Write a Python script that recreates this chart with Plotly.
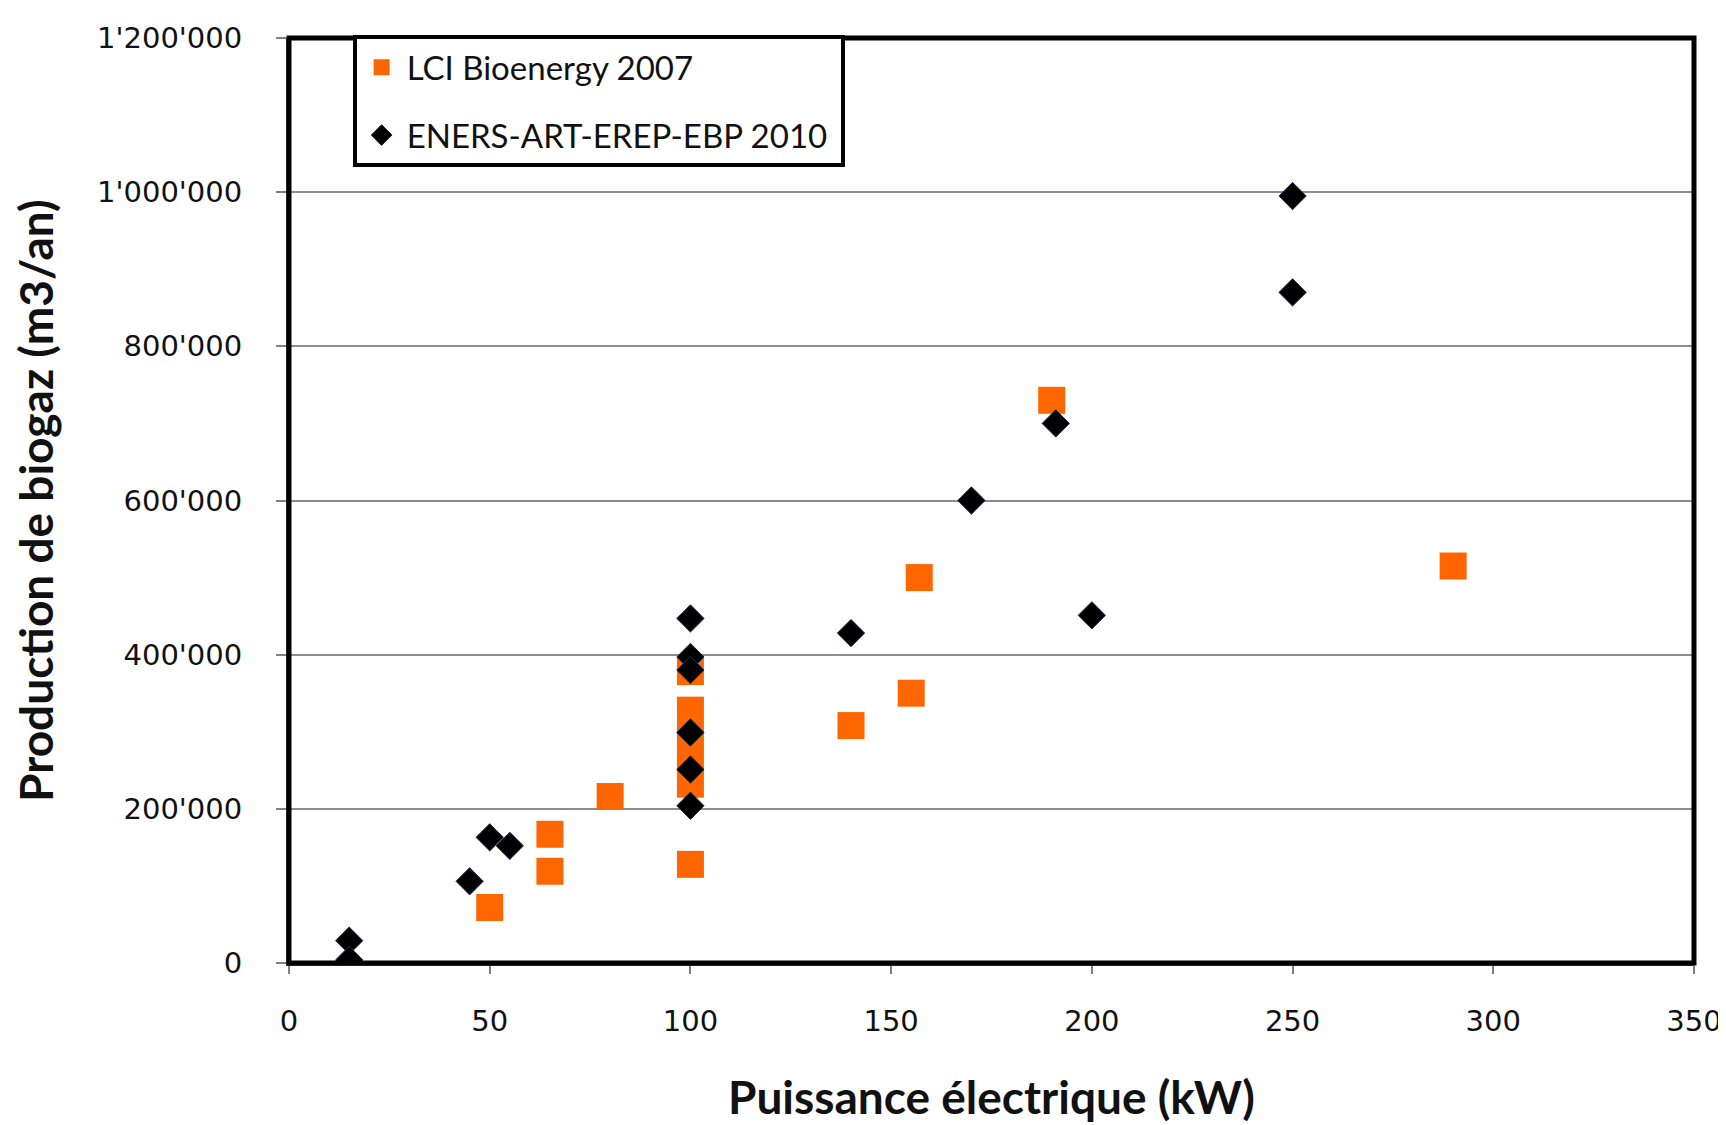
import plotly.graph_objects as go

# LCI Bioenergy 2007 (orange squares)
lci_x = [50, 65, 65, 80, 100, 100, 100, 100, 100, 100, 140, 155, 157, 190, 290]
lci_y = [72000, 167000, 119000, 216000, 378000, 328000, 295000, 262000, 232000, 128000,
         308000, 350000, 500000, 730000, 515000]

# ENERS-ART-EREP-EBP 2010 (black diamonds)
en_x = [15, 15, 45, 50, 55, 100, 100, 100, 100, 100, 100, 140, 170, 191, 200, 250, 250]
en_y = [29000, 4000, 106000, 163000, 152000, 447000, 397000, 380000, 299000, 251000, 204000,
        428000, 600000, 700000, 451000, 995000, 870000]

x_ticks = [0, 50, 100, 150, 200, 250, 300, 350]
y_ticks = [0, 200000, 400000, 600000, 800000, 1000000, 1200000]

x_title = "Puissance électrique (kW)"
y_title = "Production de biogaz (m3/an)"
names = ["LCI Bioenergy 2007", "ENERS-ART-EREP-EBP 2010"]

fig = go.Figure()
fig.add_trace(go.Scatter(
    x=lci_x, y=lci_y, mode="markers", name=names[0] + "\u00a0", legendgroup="a",
    marker=dict(symbol="square", size=27, color="#FF6600", line=dict(width=0)),
))
fig.add_trace(go.Scatter(
    x=en_x, y=en_y, mode="markers", name=names[1] + "\u00a0", legendgroup="b",
    marker=dict(symbol="diamond", size=21, color="#000000",
                line=dict(width=1, color="#1a2a50")),
))

W, H = 1726, 1125
L, R, T, B = 281, 32, 30, 170
pw, ph = W - L - R, H - T - B

fig.update_layout(
    width=W, height=H,
    margin=dict(l=L, r=R, t=T, b=B, pad=0),
    paper_bgcolor="white", plot_bgcolor="white",
    separators=".'",
    showlegend=True,
    legend=dict(
        x=(345 - L) / pw, y=1.003, xanchor="left", yanchor="top",
        bgcolor="white", bordercolor="black", borderwidth=4,
        font=dict(family="Lato", size=33, color="#111111"),
        traceorder="grouped", tracegroupgap=22, itemwidth=40,
    ),
    xaxis=dict(
        range=[0, 350], tickvals=x_ticks, showgrid=False, zeroline=False,
        showline=True, linecolor="#404040", linewidth=3,
        ticks="outside", ticklen=8, tickwidth=2, tickcolor="#808080",
        tickfont=dict(family="DejaVu Sans", size=29, color="#111111"),
        ticklabelstandoff=22,
    ),
    yaxis=dict(
        range=[0, 1200000], tickvals=y_ticks, tickformat=",d",
        showgrid=True, gridcolor="#8c8c8c", gridwidth=2, zeroline=False,
        showline=True, linecolor="#404040", linewidth=3,
        ticks="outside", ticklen=10, tickwidth=2, tickcolor="#808080",
        tickfont=dict(family="DejaVu Sans", size=29, color="#111111"),
        ticklabelstandoff=28,
    ),
    shapes=[dict(type="rect", xref="paper", yref="paper", x0=0, y0=0, x1=1, y1=1,
                 line=dict(color="black", width=5), layer="above")],
    annotations=[
        dict(text=x_title, xref="paper", yref="paper", x=0.5, y=(955 - 1088) / ph,
             xanchor="center", yanchor="middle", showarrow=False,
             font=dict(family="Lato", size=46, color="#111111", weight="bold")),
        dict(text=y_title, xref="paper", yref="paper", x=(26 - L) / pw, y=0.5,
             xanchor="center", yanchor="middle", showarrow=False, textangle=-90,
             font=dict(family="Lato", size=46, color="#111111", weight="bold")),
    ],
)

fig.write_html("out.html")
